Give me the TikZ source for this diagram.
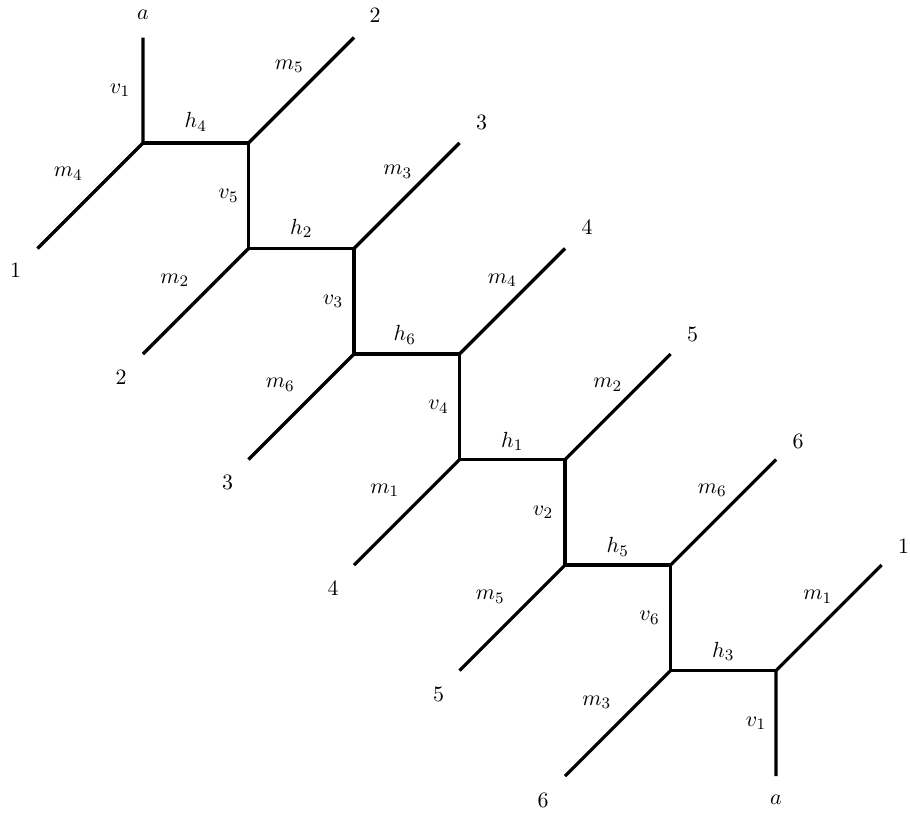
\documentclass[tikz,border=0pt]{standalone}
\usetikzlibrary{calc}
\begin{document}
\begin{tikzpicture}[x=0.5pt,y=-0.5pt,
  edge/.style={line width=1.6pt},
  lab/.style={inner sep=0pt,font=\fontsize{11}{13}\selectfont}]
\useasboundingbox (0,0) rectangle (910,814);
% inner vertices
\coordinate (A) at (143,143);
\coordinate (B) at (248.5,143);
\coordinate (C) at (248.5,248.5);
\coordinate (D) at (354,248.5);
\coordinate (E) at (354,354);
\coordinate (F) at (459.5,354);
\coordinate (G) at (459.5,459.5);
\coordinate (H) at (565,459.5);
\coordinate (I) at (565,565);
\coordinate (J) at (670.5,565);
\coordinate (K) at (670.5,670.5);
\coordinate (L) at (776,670.5);
% leaves
\coordinate (ta) at (143,37.5);
\coordinate (tA) at (37.5,248.5);
\coordinate (tB) at (354,37.5);
\coordinate (tC) at (143,354);
\coordinate (tD) at (459.5,143);
\coordinate (tE) at (248.5,459.5);
\coordinate (tF) at (565,248.5);
\coordinate (tG) at (354,565);
\coordinate (tH) at (670.5,354);
\coordinate (tI) at (459.5,670.5);
\coordinate (tJ) at (776,459.5);
\coordinate (tK) at (565,776);
\coordinate (tL) at (881.5,565);
\coordinate (bL) at (776,776);
% staircase
\draw[edge] (A) -- (B) -- (C) -- (D) -- (E) -- (F) -- (G) -- (H) -- (I) -- (J) -- (K) -- (L);
% leaf edges
\draw[edge] (ta) -- (A) -- (tA);
\draw[edge] (B) -- (tB);
\draw[edge] (C) -- (tC);
\draw[edge] (D) -- (tD);
\draw[edge] (E) -- (tE);
\draw[edge] (F) -- (tF);
\draw[edge] (G) -- (tG);
\draw[edge] (H) -- (tH);
\draw[edge] (I) -- (tI);
\draw[edge] (J) -- (tJ);
\draw[edge] (K) -- (tK);
\draw[edge] (tL) -- (L) -- (bL);
% leaf labels
\node[lab] (la1) at ($(ta)+(0,-23)$) {$a$};
\node[lab] (la2) at ($(tA)+(-22,22)$) {$1$};
\node[lab] (la3) at ($(tB)+(21,-22)$) {$2$};
\node[lab] (la4) at ($(tC)+(-22,23)$) {$2$};
\node[lab] (la5) at ($(tD)+(22,-21)$) {$3$};
\node[lab] (la6) at ($(tE)+(-21,23)$) {$3$};
\node[lab] (la7) at ($(tF)+(22,-21)$) {$4$};
\node[lab] (la8) at ($(tG)+(-21,23)$) {$4$};
\node[lab] (la9) at ($(tH)+(22,-20)$) {$5$};
\node[lab] (la10) at ($(tI)+(-21,24)$) {$5$};
\node[lab] (la11) at ($(tJ)+(22,-18)$) {$6$};
\node[lab] (la12) at ($(tK)+(-22,24)$) {$6$};
\node[lab] (la13) at ($(tL)+(22,-19)$) {$1$};
\node[lab] (la14) at ($(bL)+(0,24)$) {$a$};
% edge labels
\node[lab] (e1) at ($(ta)!0.5!(A)+(-23,0)$) {$v_1$};
\node[lab] (e2) at ($(A)!0.5!(B)+(0,-21)$) {$h_4$};
\node[lab] (e3) at ($(A)!0.5!(tA)+(-22,-22)$) {$m_4$};
\node[lab] (e4) at ($(B)!0.5!(tB)+(-12,-24)$) {$m_5$};
\node[lab] (e5) at ($(B)!0.5!(C)+(-20,0)$) {$v_5$};
\node[lab] (e6) at ($(C)!0.5!(D)+(0,-20)$) {$h_2$};
\node[lab] (e7) at ($(C)!0.5!(tC)+(-21,-21)$) {$m_2$};
\node[lab] (e8) at ($(D)!0.5!(tD)+(-9,-24)$) {$m_3$};
\node[lab] (e9) at ($(D)!0.5!(E)+(-21,0)$) {$v_3$};
\node[lab] (e10) at ($(E)!0.5!(F)+(-2,-19)$) {$h_6$};
\node[lab] (e11) at ($(E)!0.5!(tE)+(-21,-22)$) {$m_6$};
\node[lab] (e12) at ($(F)!0.5!(tF)+(-10,-21)$) {$m_4$};
\node[lab] (e13) at ($(F)!0.5!(G)+(-21,0)$) {$v_4$};
\node[lab] (e14) at ($(G)!0.5!(H)+(0,-18)$) {$h_1$};
\node[lab] (e15) at ($(G)!0.5!(tG)+(-22,-22)$) {$m_1$};
\node[lab] (e16) at ($(H)!0.5!(tH)+(-10,-22)$) {$m_2$};
\node[lab] (e17) at ($(H)!0.5!(I)+(-22,0)$) {$v_2$};
\node[lab] (e18) at ($(I)!0.5!(J)+(0,-18)$) {$h_5$};
\node[lab] (e19) at ($(I)!0.5!(tI)+(-22,-21)$) {$m_5$};
\node[lab] (e20) at ($(J)!0.5!(tJ)+(-11,-22)$) {$m_6$};
\node[lab] (e21) at ($(J)!0.5!(K)+(-21,0)$) {$v_6$};
\node[lab] (e22) at ($(K)!0.5!(L)+(0,-19)$) {$h_3$};
\node[lab] (e23) at ($(K)!0.5!(tK)+(-21,-21)$) {$m_3$};
\node[lab] (e24) at ($(L)!0.5!(tL)+(-11,-21)$) {$m_1$};
\node[lab] (e25) at ($(L)!0.5!(bL)+(-20,0)$) {$v_1$};
\end{tikzpicture}
\end{document}
